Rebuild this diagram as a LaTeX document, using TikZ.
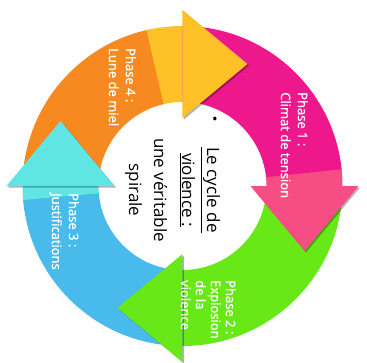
\documentclass[tikz,border=0pt]{standalone}
\usepackage{fontspec}
\setmainfont{Open Sans}
\newfontfamily\phasefont{Open Sans}[FakeBold=1.2]
\usetikzlibrary{calc}
\definecolor{luneA}{RGB}{246,138,32}
\definecolor{luneB}{RGB}{255,192,40}
\definecolor{climatA}{RGB}{236,24,140}
\definecolor{climatB}{RGB}{246,78,132}
\definecolor{explosion}{RGB}{104,232,22}
\definecolor{justifA}{RGB}{72,186,236}
\definecolor{justifB}{RGB}{96,230,226}
\def\Rin{84}
\def\Rout{160}
\def\ringbody[#1](#2:#3){\fill[#1] (#2:\Rout) arc (#2:#3:\Rout) -- (#3:\Rin) arc (#3:#2:\Rin) -- cycle;}
\def\ringhead[#1](#2){\fill[#1, rotate=#2-90] (0,68) -- (0,176) -- (65,122) -- cycle;}
\tikzset{
	phase/.style={text=white, rotate=-90, align=left, anchor=north west, inner sep=0pt, font=\phasefont\fontsize{13}{17}\selectfont},
	ombre/.style={black, opacity=0.3, xshift=1.5pt, yshift=-1.5pt}
}

\begin{document}
\begin{tikzpicture}[x=1pt, y=1pt]
		%%%%% START %%%%%
		\useasboundingbox (-182.5,-176) rectangle (184.5,186);
		
		% bodies
		\ringbody[luneA](180:102);
		\ringbody[luneB](103:90);
		\ringbody[climatA](90:5);
		\ringbody[climatB](6:0);
		\ringbody[explosion](0:-90);
		\ringbody[justifA](-90:-176);
		\ringbody[justifB](-175:-180);
		
		% heads
		\ringhead[ombre](90);
		\ringhead[luneB](90);
		\ringhead[ombre](0);
		\ringhead[climatB](0);
		\ringhead[ombre](-90);
		\ringhead[explosion](-90);
		\ringhead[ombre](180);
		\ringhead[justifB](180);
		
		% labels
		\node[phase] (lune) at (-46.5,138) {Phase 4 :\\Lune de miel};
		\node[phase] (climat) at (125.5,94) {Phase 1 :\\Climat de tension};
		\node[phase, font=\phasefont\fontsize{13}{15}\selectfont] (explo) at (53.5,-94) {Phase 2 :\\Explosion\\de la\\violence};
		\node[phase] (justif) at (-103.5,-7) {Phase 3 :\\Justifications};
		
		\node[font=\fontsize{15}{15}\selectfont, inner sep=0pt] (puce) at (32.5,65) {\textbullet};
		\node[rotate=-90, align=center, inner sep=0pt, font=\fontsize{17}{25}\selectfont] (titre) at (-10,-4)
			{\underline{Le cycle de}\\\underline{violence :}\\[3pt]une véritable\\spirale};
		
		%%%%% END %%%%%
\end{tikzpicture}
\end{document}
